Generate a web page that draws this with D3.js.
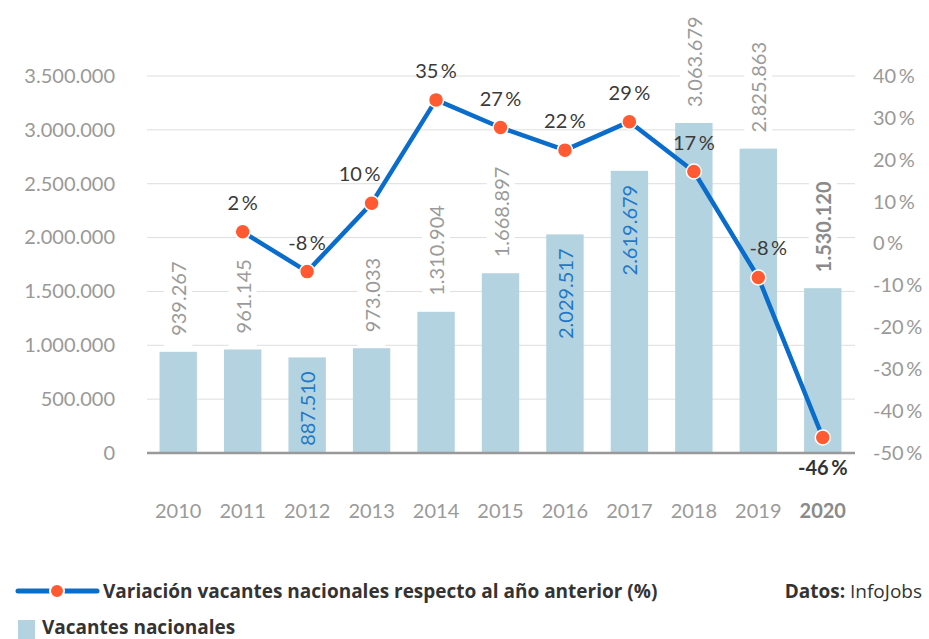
<!DOCTYPE html>
<html><head><meta charset="utf-8">
<script src="https://cdn.jsdelivr.net/npm/d3@7"></script>
<style>
html,body{margin:0;padding:0;background:#fff;}
svg{display:block;font-family:Lato,"Open Sans",sans-serif;}
</style></head>
<body>
<svg id="c" width="929" height="639"></svg>
<script>
const years = ["2010","2011","2012","2013","2014","2015","2016","2017","2018","2019","2020"];
const vacantes = [939267, 961145, 887510, 973033, 1310904, 1668897, 2029517, 2619679, 3063679, 2825863, 1530120];
const vacLabels = ["939.267","961.145","887.510","973.033","1.310.904","1.668.897","2.029.517","2.619.679","3.063.679","2.825.863","1.530.120"];
const varYears = ["2011","2012","2013","2014","2015","2016","2017","2018","2019","2020"];
const variacion = [2.8, -6.7, 9.6, 34.3, 27.7, 22.3, 29.1, 17.2, -8.1, -46.3];
const varLabels = ["2","-8","10","35","27","22","29","17","-8","-46"];
const leftTicks = [0, 500000, 1000000, 1500000, 2000000, 2500000, 3000000, 3500000];
const rightTicks = [40, 30, 20, 10, 0, -10, -20, -30, -40, -50];

// styling / layout lookups
const insideYears = new Set(["2012","2016","2017"]);
const labelDx = {"2013": -12, "2019": 10};

const svg = d3.select("#c");
const x0 = 146, x1 = 855, yTop = 76, yBase = 453;

const x = d3.scaleBand().domain(years).range([x0, x1]).paddingInner(0.42).paddingOuter(0.21);
const yL = d3.scaleLinear().domain([0, 3500000]).range([yBase, yTop]);
const yR = d3.scaleLinear().domain([-50, 40]).range([yBase, yTop]);
const fmt = d3.formatLocale({decimal: ",", thousands: ".", grouping: [3], currency: ["", "€"]}).format(",d");

// grid
svg.append("g").selectAll("line").data(leftTicks.filter(d => d > 0)).join("line")
  .attr("x1", x0 + 1).attr("x2", x1).attr("y1", d => yL(d)).attr("y2", d => yL(d))
  .attr("stroke", "#dedede").attr("stroke-width", 1);

// left axis
const gL = svg.append("g").attr("transform", `translate(${x0 - 31},0)`)
  .call(d3.axisLeft(yL).tickValues(leftTicks).tickFormat(fmt).tickSize(0).tickPadding(0));
gL.select(".domain").remove();
gL.selectAll("text").attr("fill", "#999").attr("font-size", 20).attr("font-family", "Lato");

// right axis
const gR = svg.append("g").attr("transform", `translate(${x1 + 18},0)`)
  .call(d3.axisRight(yR).tickValues(rightTicks).tickFormat(d => d + "\u2009%").tickSize(0).tickPadding(0));
gR.select(".domain").remove();
gR.selectAll("text").attr("fill", "#999").attr("font-size", 20).attr("font-family", "Lato");

// bars
svg.append("g").selectAll("rect").data(years).join("rect")
  .attr("x", d => x(d)).attr("width", x.bandwidth())
  .attr("y", (d, i) => yL(vacantes[i])).attr("height", (d, i) => yBase - yL(vacantes[i]))
  .attr("fill", "#b4d3e0");

// baseline
svg.append("line").attr("x1", x0 + 1).attr("x2", x1).attr("y1", yBase).attr("y2", yBase)
  .attr("stroke", "#999").attr("stroke-width", 2.5);

// bar labels
const bl = svg.append("g");
years.forEach((yr, i) => {
  const cx = x(yr) + x.bandwidth() / 2;
  const top = yL(vacantes[i]);
  const inside = insideYears.has(yr);
  const bold = yr === "2020";
  const g = bl.append("g");
  const t = g.append("text")
    .attr("transform", inside ? `translate(${cx},${top + 14}) rotate(-90)` : `translate(${cx},${top - 16}) rotate(-90)`)
    .attr("text-anchor", inside ? "end" : "start")
    .attr("dominant-baseline", "central")
    .attr("font-size", 20)
    .attr("font-weight", bold ? 700 : 400)
    .attr("fill", inside ? "#1f78c8" : (bold ? "#8a8a8a" : "#9a9a9a"))
    .text(vacLabels[i]);
  if (!inside) {
    const len = t.node().getComputedTextLength();
    g.insert("rect", "text").attr("x", cx - 14).attr("width", 28)
      .attr("y", top - 16 - len - 4).attr("height", len + 4 + 15).attr("fill", "#fff");
  }
});

// line
const line = d3.line().x((d, i) => x(varYears[i]) + x.bandwidth() / 2).y(d => yR(d));
svg.append("path").datum(variacion).attr("d", line)
  .attr("fill", "none").attr("stroke", "#0a6dcc").attr("stroke-width", 4.5).attr("stroke-linejoin", "round");
svg.append("g").selectAll("circle").data(variacion).join("circle")
  .attr("cx", (d, i) => x(varYears[i]) + x.bandwidth() / 2).attr("cy", d => yR(d)).attr("r", 7.5)
  .attr("fill", "#ff5a32").attr("stroke", "#fff").attr("stroke-width", 1.5);

// percent labels
svg.append("g").selectAll("text").data(variacion).join("text")
  .attr("x", (d, i) => x(varYears[i]) + x.bandwidth() / 2 + (labelDx[varYears[i]] || 0))
  .attr("y", (d, i) => varYears[i] === "2020" ? yR(d) + 37 : yR(d) - 22)
  .attr("text-anchor", "middle").attr("font-size", 20)
  .attr("font-weight", (d, i) => varYears[i] === "2020" ? 700 : 400)
  .attr("fill", (d, i) => varYears[i] === "2020" ? "#333" : "#3a3a3a")
  .text((d, i) => varLabels[i] + "\u2009%");

// x axis labels
const gX = svg.append("g").attr("transform", `translate(0,${yBase + 51})`)
  .call(d3.axisBottom(x).tickSize(0).tickPadding(0));
gX.select(".domain").remove();
gX.selectAll("text").attr("font-size", 20).attr("font-family", "Lato")
  .attr("fill", d => d === "2020" ? "#8a8a8a" : "#9a9a9a")
  .attr("font-weight", d => d === "2020" ? 700 : 400);

// legend
const lg = svg.append("g").attr("font-size", 19).attr("font-family", "'Open Sans', sans-serif");
lg.append("line").attr("x1", 18).attr("x2", 97).attr("y1", 591).attr("y2", 591)
  .attr("stroke", "#0a6dcc").attr("stroke-width", 5).attr("stroke-linecap", "round");
lg.append("circle").attr("cx", 57).attr("cy", 591).attr("r", 7)
  .attr("fill", "#ff5a32").attr("stroke", "#fff").attr("stroke-width", 2);
lg.append("text").attr("x", 103).attr("y", 591).attr("dominant-baseline", "central")
  .attr("font-weight", 700).attr("fill", "#333")
  .text("Variación vacantes nacionales respecto al año anterior (%)");
lg.append("rect").attr("x", 18).attr("y", 620).attr("width", 17).attr("height", 19).attr("fill", "#b4d3e0");
lg.append("text").attr("x", 42).attr("y", 627).attr("dominant-baseline", "central")
  .attr("font-weight", 700).attr("fill", "#333").text("Vacantes nacionales");
const dt = lg.append("text").attr("x", 922).attr("y", 591).attr("dominant-baseline", "central")
  .attr("text-anchor", "end").attr("fill", "#333");
dt.append("tspan").attr("font-weight", 700).text("Datos: ");
dt.append("tspan").text("InfoJobs");
</script>
</body></html>
